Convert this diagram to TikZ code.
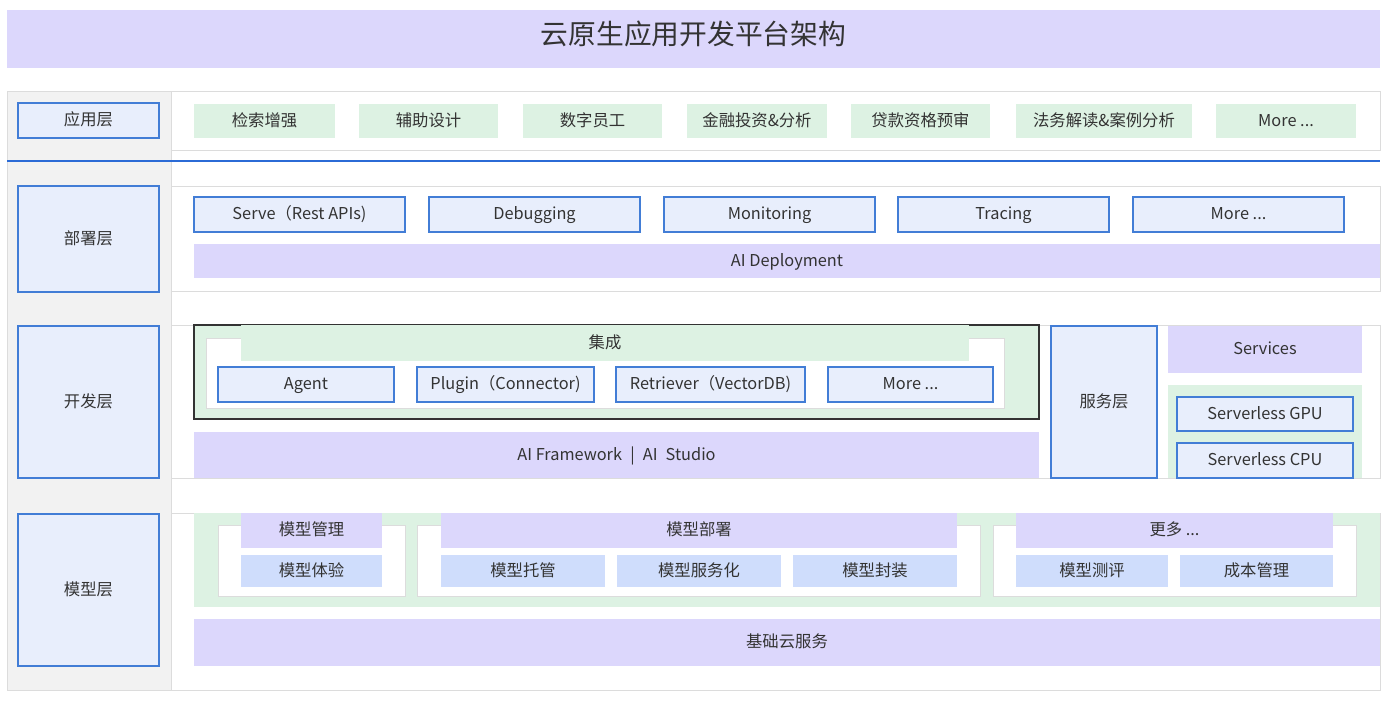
\documentclass[tikz,border=0pt]{standalone}
\usepackage{fontspec}
\setmainfont{Noto Sans CJK SC}
\usepackage{tikz}
\usetikzlibrary{positioning}
\usepackage{xcolor}
\definecolor{PU}{RGB}{220,215,252}
\definecolor{GR}{RGB}{221,242,227}
\definecolor{LBf}{RGB}{232,238,252}
\definecolor{LBd}{RGB}{66,125,214}
\definecolor{SB}{RGB}{207,221,252}
\definecolor{GYf}{RGB}{242,242,242}
\definecolor{GYd}{RGB}{220,220,220}
\definecolor{TX}{RGB}{51,51,51}
\definecolor{SEP}{RGB}{43,107,214}

\begin{document}
\begin{tikzpicture}[x=0.02cm, y=-0.02cm,
  wh/.style 2 args={minimum width=#1*0.02cm, minimum height=#2*0.02cm},
  base/.style={inner sep=0pt, outer sep=0pt, align=center, text=TX,
               text height=0.8em, text depth=0.22em,
               font=\fontsize{9.3}{11}\selectfont},
  lbl/.style={base, draw=LBd, fill=LBf, line width=0.7pt},
  app/.style={base, fill=GR},
  bar/.style={base, fill=PU},
  sub/.style={base, fill=SB},
  frame/.style={draw=GYd, fill=white, line width=0.5pt}
]
\useasboundingbox (0,0) rectangle (1400,707);

% title
\node[bar, wh={1373}{58}, font=\fontsize{15.8}{18}\selectfont] (title) at (693.5,39) {云原生应用开发平台架构};

% left column and layer frames
\draw[fill=GYf, draw=GYd, line width=0.5pt] (7,91) rectangle (171,690);
\draw[frame] (171,91) rectangle (1380,150);
\draw[frame] (171,186) rectangle (1380,291);
\draw[frame] (171,325) rectangle (1380,478);
\draw[frame] (171,513) rectangle (1380,690);
\draw[SEP, line width=1.2pt] (7,161) -- (1380,161);

% layer labels
\node[lbl, wh={141}{35}]  (lapp) at (88.5,120.5) {应用层};
\node[lbl, wh={141}{106}] (ldep) at (88.5,239)   {部署层};
\node[lbl, wh={141}{152}] (ldev) at (88.5,402)   {开发层};
\node[lbl, wh={141}{152}] (lmod) at (88.5,590)   {模型层};

% application layer
\node[app, wh={141}{34}] (a1) at (264.5,121) {检索增强};
\node[app, wh={139}{34}] (a2) at (428.5,121) {辅助设计};
\node[app, wh={139}{34}] (a3) at (592.5,121) {数字员工};
\node[app, wh={140}{34}] (a4) at (757,121)   {金融投资\&分析};
\node[app, wh={139}{34}] (a5) at (920.5,121) {贷款资格预审};
\node[app, wh={176}{34}] (a6) at (1104,121)  {法务解读\&案例分析};
\node[app, wh={140}{34}] (a7) at (1286,121)  {More ...};

% deployment layer
\node[lbl, wh={211}{35}] (d1) at (299.5,214.5)  {Serve（Rest APIs)};
\node[lbl, wh={211}{35}] (d2) at (534.5,214.5)  {Debugging};
\node[lbl, wh={211}{35}] (d3) at (769.5,214.5)  {Monitoring};
\node[lbl, wh={211}{35}] (d4) at (1003.5,214.5) {Tracing};
\node[lbl, wh={211}{35}] (d5) at (1238.5,214.5) {More ...};
\node[bar, wh={1186}{34}] (ddep) at (787,261) {AI Deployment};

% development layer
\draw[fill=GR, draw=TX, line width=0.6pt] (194,325) rectangle (1039,419);
\draw[fill=white, draw=GYd, line width=0.4pt] (206,338) rectangle (1004,408);
\node[app, wh={728}{36}] (integ) at (605,343) {集成};
\node[lbl, wh={176}{35}] (v1) at (306,384.5)   {Agent};
\node[lbl, wh={177}{35}] (v2) at (505.5,384.5) {Plugin（Connector)};
\node[lbl, wh={189}{35}] (v3) at (710.5,384.5) {Retriever（VectorDB)};
\node[lbl, wh={165}{35}] (v4) at (910.5,384.5) {More ...};
\node[bar, wh={845}{46}] (fw) at (616.5,455) {AI Framework\enspace|\enspace AI\enspace Studio};

\node[lbl, wh={106}{152}] (svc) at (1104,402) {服务层};
\node[bar, wh={194}{47}] (svcs) at (1265,349.5) {Services};
\fill[GR] (1168,385) rectangle (1362,478);
\node[lbl, wh={176}{34}] (gpu) at (1265,414)   {Serverless GPU};
\node[lbl, wh={176}{35}] (cpu) at (1265,460.5) {Serverless CPU};

% model layer
\fill[GR] (194,513) rectangle (1380,607);
\draw[fill=white, draw=GYd, line width=0.4pt] (218,525) rectangle (405,596);
\draw[fill=white, draw=GYd, line width=0.4pt] (417,525) rectangle (980,596);
\draw[fill=white, draw=GYd, line width=0.4pt] (993,525) rectangle (1356,596);
\node[bar, wh={141}{35}] (m1) at (311.5,530.5)  {模型管理};
\node[bar, wh={516}{35}] (m2) at (699,530.5)    {模型部署};
\node[bar, wh={317}{35}] (m3) at (1174.5,530.5) {更多 ...};
\node[sub, wh={141}{32}] (s1) at (311.5,571)  {模型体验};
\node[sub, wh={164}{32}] (s2) at (523,571)    {模型托管};
\node[sub, wh={164}{32}] (s3) at (699,571)    {模型服务化};
\node[sub, wh={164}{32}] (s4) at (875,571)    {模型封装};
\node[sub, wh={152}{32}] (s5) at (1092,571)   {模型测评};
\node[sub, wh={153}{32}] (s6) at (1256.5,571) {成本管理};
\node[bar, wh={1186}{47}] (cloud) at (787,642.5) {基础云服务};
\end{tikzpicture}
\end{document}
